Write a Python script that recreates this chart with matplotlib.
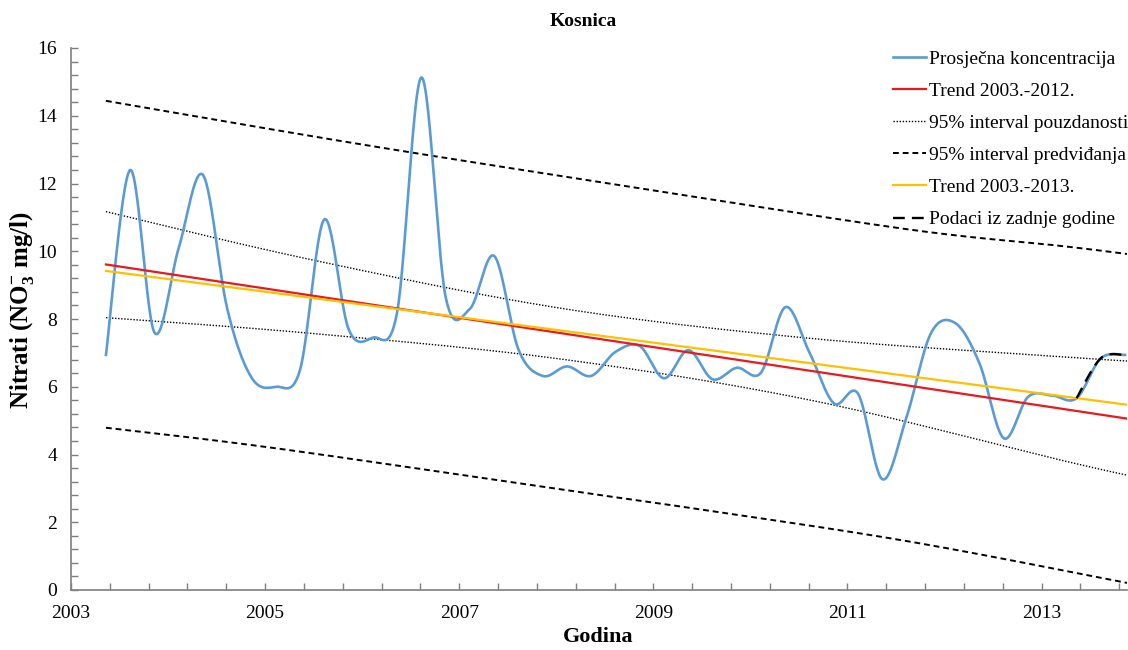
import numpy as np
import matplotlib
matplotlib.use("Agg")
import matplotlib.pyplot as plt

plt.rcParams['font.family'] = ['Liberation Serif', 'DejaVu Serif']
plt.rcParams['mathtext.fontset'] = 'custom'
plt.rcParams['mathtext.rm'] = 'Liberation Serif'
plt.rcParams['mathtext.bf'] = 'Liberation Serif:bold'
plt.rcParams['mathtext.it'] = 'Liberation Serif:italic'

# ---------------- data ----------------
title = "Kosnica"
x_label = "Godina"
y_label = r"Nitrati (NO$_{\mathbf{3}}^{\mathbf{-}}$ mg/l)"

first_sample = 2003.36          # first quarterly sample (year)
sample_step = 0.25              # quarterly sampling
concentration = [6.94, 12.40, 7.60, 10.1, 12.25, 8.3, 6.27, 6.0, 6.5, 10.94,
                 7.7, 7.45, 8.2, 15.13, 8.65, 8.3, 9.86, 7.1, 6.32, 6.6,
                 6.32, 7.03, 7.2, 6.25, 7.08, 6.22, 6.56, 6.42, 8.35, 7.0,
                 5.51, 5.79, 3.27, 5.12, 7.58, 7.88, 6.69, 4.48, 5.7, 5.74,
                 5.66, 6.84, 6.94]
last_year_from = 40             # index where the last-year data start

trend_years = [2003.36, 2013.88]
trend_2012 = [9.61, 5.06]
trend_2013 = [9.42, 5.47]

ci_years = [2003.36, 2005.46, 2008.04, 2010.61, 2013.19, 2013.88]
ci_upper = [11.17, 9.76, 8.32, 7.43, 6.89, 6.76]
ci_lower = [8.04, 7.58, 6.82, 5.61, 3.84, 3.39]

pi_up_years = [2003.36, 2005.98, 2008.86, 2011.64, 2013.19, 2013.88]
pi_upper = [14.44, 13.16, 11.86, 10.64, 10.16, 9.92]
pi_lo_years = [2003.36, 2005.12, 2008.04, 2009.48, 2011.64, 2013.88]
pi_lower = [4.79, 4.18, 2.97, 2.38, 1.43, 0.21]

x_tick_labels = ["2003", "2005", "2007", "2009", "2011", "2013"]

labels = ["Prosječna koncentracija", "Trend 2003.-2012.", "95% interval pouzdanosti",
          "95% interval predviđanja", "Trend 2003.-2013.", "Podaci iz zadnje godine"]

# ---------------- helpers ----------------
def smooth(x, y, sx=97.07, sy=33.875, n=30):
    """Excel-like smoothed line (Catmull-Rom Bezier in screen proportions)."""
    P = np.column_stack([np.asarray(x, float) * sx, np.asarray(y, float) * sy])
    out = []
    t = np.linspace(0, 1, n)[:, None]
    for i in range(len(P) - 1):
        p0 = P[i - 1] if i > 0 else P[i]
        p1, p2 = P[i], P[i + 1]
        p3 = P[i + 2] if i + 2 < len(P) else P[i + 1]
        c1 = p1 + (p2 - p0) / 6
        c2 = p2 - (p3 - p1) / 6
        seg = (1 - t) ** 3 * p1 + 3 * (1 - t) ** 2 * t * c1 + 3 * (1 - t) * t ** 2 * c2 + t ** 3 * p2
        out.append(seg if i == 0 else seg[1:])
    out = np.vstack(out)
    return out[:, 0] / sx, out[:, 1] / sy

# ---------------- figure ----------------
fig = plt.figure(figsize=(11.28, 6.5), dpi=100)
ax = fig.add_axes([71 / 1128, 60 / 650, (1127 - 71) / 1128, (590 - 48) / 650])

years = first_sample + sample_step * np.arange(len(concentration))

sx, sy = smooth(years, concentration)
ax.plot(sx, sy, color='#5b9bd5', lw=1.9, label=labels[0], zorder=3)
ax.plot(trend_years, trend_2012, color='#e8191f', lw=1.6, label=labels[1], zorder=4)
cx, cy = smooth(ci_years, ci_upper)
ax.plot(cx, cy, color='black', lw=1.0, ls=(0, (1, 1.2)), label=labels[2], zorder=2)
cx, cy = smooth(ci_years, ci_lower)
ax.plot(cx, cy, color='black', lw=1.0, ls=(0, (1, 1.2)), zorder=2)
px, py = smooth(pi_up_years, pi_upper)
ax.plot(px, py, color='black', lw=1.4, ls=(0, (3, 2)), label=labels[3], zorder=2)
px, py = smooth(pi_lo_years, pi_lower)
ax.plot(px, py, color='black', lw=1.4, ls=(0, (3, 2)), zorder=2)
ax.plot(trend_years, trend_2013, color='#ffc000', lw=1.6, label=labels[4], zorder=4)
lx, ly = smooth(years[last_year_from:], concentration[last_year_from:])
ax.plot(lx, ly, color='black', lw=1.7, ls=(0, (5, 3)), label=labels[5], zorder=5)

ax.set_xlim(2003, 2013.88)
ax.set_ylim(0, 16)

xt = 2003 + 0.4 * np.arange(28)
ax.set_xticks(xt)
ax.set_xticklabels([x_tick_labels[i // 5] if i % 5 == 0 else "" for i in range(len(xt))])
yt = 0.4 * np.arange(41)
ax.set_yticks(yt)
ax.set_yticklabels([f"{int(round(v))}" if i % 5 == 0 else "" for i, v in enumerate(yt)])

ax.tick_params(axis='both', direction='in', length=5, width=1, color='#7f7f7f',
               labelsize=14)
ax.tick_params(axis='x', pad=11)
ax.tick_params(axis='y', pad=10)
for s in ['top', 'right']:
    ax.spines[s].set_visible(False)
for s in ['left', 'bottom']:
    ax.spines[s].set_color('#7f7f7f')
    ax.spines[s].set_linewidth(1.2)

fig.text(583 / 1128, 1 - 21 / 650, title, ha='center', va='center', fontsize=14, fontweight='bold')
fig.text(598 / 1128, 1 - 637 / 650, x_label, ha='center', va='center', fontsize=16, fontweight='bold')
fig.text(22 / 1128, 1 - 310 / 650, y_label, ha='center', va='center', fontsize=18,
         fontweight='bold', rotation=90)

leg = ax.legend(loc='upper right', bbox_to_anchor=(1.012, 1.018), frameon=False, fontsize=14,
                handlelength=1.7, handletextpad=0.15, labelspacing=0.75, borderaxespad=0.2)

fig.savefig("out.png", dpi=100)
